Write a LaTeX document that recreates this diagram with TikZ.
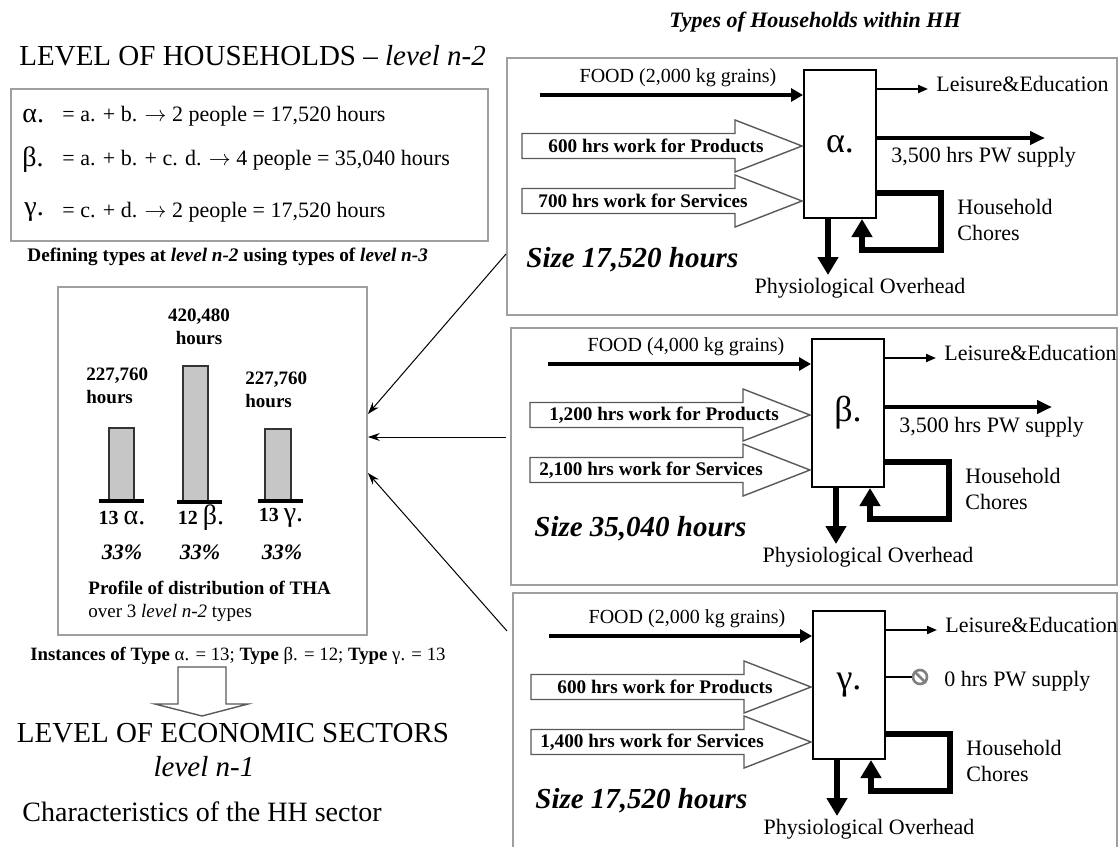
\documentclass[tikz,border=0pt]{standalone}
\usepackage{fontspec}
\setmainfont{Liberation Serif}
\usetikzlibrary{arrows.meta}

\tikzset{
  panelframe/.style={draw=gray!75, line width=0.9pt},
  hhbox/.style={draw, line width=1pt, minimum width=36pt, minimum height=74pt, inner sep=0pt, font=\fontsize{18}{20}\selectfont},
  foodarr/.style={line width=2pt, -{Triangle[length=6pt,width=6.5pt]}},
  pwarr/.style={line width=2pt, -{Triangle[length=7.5pt,width=6.5pt]}},
  leisarr/.style={line width=1pt, -{Triangle[length=5pt,width=4pt]}},
  thickarr/.style={line width=2.8pt, -{Triangle[length=9pt,width=10pt]}},
  hollow/.style={draw=gray!70!black, line width=0.7pt, fill=white},
  link/.style={line width=0.5pt, -{Stealth[length=6pt,width=4pt]}},
  bar/.style={draw=black!80, line width=0.7pt, fill=gray!45},
  barbase/.style={line width=2pt},
  nopw/.style={circle, draw=gray, line width=1.3pt, minimum size=7pt, inner sep=0pt},
  ttl/.style={inner sep=0pt, font=\fontsize{14.5}{17}\selectfont},
  chr/.style={inner sep=0pt, font=\fontsize{14}{17}\selectfont},
  defs/.style={inner sep=0pt, font=\fontsize{11}{13}\selectfont},
  grk/.style={inner sep=0pt, font=\fontsize{14}{16}\selectfont},
  capt/.style={inner sep=0pt, font=\fontsize{9.6}{11}\selectfont\bfseries},
  small/.style={inner sep=0pt, font=\fontsize{9}{11.5}\selectfont},
  barlbl/.style={inner sep=0pt, font=\fontsize{9.5}{11.5}\selectfont\bfseries},
  cnt/.style={inner sep=0pt, font=\fontsize{10}{12}\selectfont\bfseries},
  pct/.style={inner sep=0pt, font=\fontsize{11}{13}\selectfont\bfseries\itshape},
  foodlbl/.style={inner sep=0pt, font=\fontsize{10}{12}\selectfont},
  worklbl/.style={inner sep=0pt, font=\fontsize{9.6}{11}\selectfont\bfseries},
  leislbl/.style={inner sep=0pt, font=\fontsize{11}{13}\selectfont},
  lbl/.style={inner sep=0pt, font=\fontsize{11}{13}\selectfont},
  sizelbl/.style={inner sep=0pt, font=\fontsize{14.5}{17}\selectfont\bfseries\itshape},
  hdr/.style={inner sep=0pt, font=\fontsize{11}{13}\selectfont\bfseries\itshape}
}

\newcommand\hhpanel[8]{%
  \begin{scope}[shift={(#2,#3)}]
    \node[hhbox] (#1) at (36,74) {#4};
    \node[foodlbl] (#1food) at (-126,8) {FOOD (#5 kg grains)};
    \coordinate (#1in) at (-264,25);
    \draw[foodarr] (#1in) -- (#1in -| #1.west);
    \draw[hollow] (-282,63.5) -- (-69,63.5) -- (-69,50) -- (-2,76) -- (-69,102) -- (-69,88.5) -- (-282,88.5) -- cycle;
    \node[worklbl] (#1prod) at (-148,76) {#6 hrs work for Products};
    \draw[hollow] (-282,118.5) -- (-69,118.5) -- (-69,105) -- (-2,131) -- (-69,157) -- (-69,143.5) -- (-282,143.5) -- cycle;
    \node[worklbl] (#1serv) at (-161,131) {#7 hrs work for Services};
    \coordinate (#1leis) at (124,19);
    \draw[leisarr] (#1leis -| #1.east) -- (#1leis);
    \node[leislbl, anchor=west] (#1leist) at (132,14) {Leisure\&Education};
    \coordinate (#1loop) at (137,180);
    \draw[thickarr] ([yshift=-62pt]#1.north east) -| (#1loop) -| ([xshift=29.5pt]#1.south west);
    \node[lbl, anchor=west, align=left] (#1chores) at (153,150) {Household\\Chores};
    \coordinate (#1ovh) at (24,205);
    \draw[thickarr] (#1ovh |- #1.south) -- (#1ovh);
    \node[lbl] (#1ovht) at (56,218) {Physiological Overhead};
    \node[sizelbl, anchor=west] (#1size) at (-278,190) {Size #8 hours};
  \end{scope}}

\begin{document}
\begin{tikzpicture}[x=0.5pt, y=-0.5pt]
  \useasboundingbox (0,0) rectangle (1119,846);
  \clip (0,0) rectangle (1119,846);
  \fill[white] (0,0) rectangle (1119,846);

  \node[ttl, anchor=west] (lvlhh) at (19,56) {LEVEL OF HOUSEHOLDS – \textit{level n-2}};
  \draw[panelframe] (11,89) rectangle (488,241);
  \node[grk, anchor=west] (ga) at (22,116) {α.};
  \node[defs, anchor=west] (da) at (62,116) {= a. + b. $\rightarrow$ 2 people = 17,520 hours};
  \node[grk, anchor=west] (gb) at (22,160) {β.};
  \node[defs, anchor=west] (db) at (62,160) {= a. + b. + c. d. $\rightarrow$ 4 people = 35,040 hours};
  \node[grk, anchor=west] (gg) at (24,212) {γ.};
  \node[defs, anchor=west] (dg) at (62,212) {= c. + d. $\rightarrow$ 2 people = 17,520 hours};
  \node[capt, anchor=west] (defcap) at (27,257) {Defining types at \textit{level n-2} using types of \textit{level n-3}};

  \node[panelframe, minimum width=154.5pt, minimum height=174pt, inner sep=0pt] (profile) at (212.5,461) {};
  \draw[bar] (109,428) rectangle (134,500);
  \draw[bar] (183,366) rectangle (208,501);
  \draw[bar] (265,429) rectangle (291,500);
  \draw[barbase] (99,501) -- (144,501);
  \draw[barbase] (177,502) -- (222,502);
  \draw[barbase] (258,501) -- (303,501);
  \node[barlbl, anchor=west, align=left] (hrsA) at (86,385.5) {227,760\\hours};
  \node[barlbl, align=center] (hrsB) at (199,326.5) {420,480\\hours};
  \node[barlbl, anchor=west, align=left] (hrsC) at (245,389.5) {227,760\\hours};
  \node[cnt] (cntA) at (122,518) {13 {\fontsize{14}{16}\selectfont\mdseries α.}};
  \node[cnt] (cntB) at (201,518) {12 {\fontsize{14}{16}\selectfont\mdseries β.}};
  \node[cnt] (cntC) at (281,518) {13 {\fontsize{14}{16}\selectfont\mdseries γ.}};
  \node[pct] (pctA) at (122,552) {33\%};
  \node[pct] (pctB) at (200,552) {33\%};
  \node[pct] (pctC) at (282,552) {33\%};
  \node[small, anchor=west, align=left, font=\fontsize{9.5}{11.5}\selectfont] (profcap) at (88,601) {\textbf{Profile of distribution of THA}\\over 3 \textit{level n-2} types};

  \node[small, font=\fontsize{9.4}{11}\selectfont] (inst) at (238,656) {\textbf{Instances of Type} α. = 13; \textbf{Type} β. = 12; \textbf{Type} γ. = 13};
  \draw[hollow] (178,667) -- (226,667) -- (226,704) -- (248,704) -- (202,716) -- (155,704) -- (178,704) -- cycle;
  \node[ttl] (lvlec) at (233,733) {LEVEL OF ECONOMIC SECTORS};
  \node[ttl] (lvln) at (204,767) {\textit{level n-1}};
  \node[chr, anchor=west] (hhsec) at (22,812) {Characteristics of the HH sector};

  \node[hdr] (types) at (815,22) {Types of Households within HH};
  \draw[panelframe] (507,58) rectangle (1117,315);
  \draw[panelframe] (511,328) rectangle (1117,585);
  \draw[panelframe] (513,593) rectangle (1117,870);

  \hhpanel{hhA}{804}{70}{α.}{2,000}{600}{700}{17,520}
  \hhpanel{hhB}{812}{339}{β.}{4,000}{1,200}{2,100}{35,040}
  \hhpanel{hhC}{813}{611}{γ.}{2,000}{600}{1,400}{17,520}

  \coordinate (pwA) at (1045,138);
  \draw[pwarr] (pwA -| hhA.east) -- (pwA);
  \node[lbl, anchor=west] (pwAt) at (891,157) {3,500 hrs PW supply};
  \coordinate (pwB) at (1052,407);
  \draw[pwarr] (pwB -| hhB.east) -- (pwB);
  \node[lbl, anchor=west] (pwBt) at (899,427) {3,500 hrs PW supply};
  \node[nopw] (pwC) at (920,677) {};
  \draw[gray, line width=1.3pt] (pwC.north west) -- (pwC.south east);
  \draw[line width=1pt] (pwC -| hhC.east) -- (pwC.west);
  \node[lbl, anchor=west] (pwCt) at (944,681) {0 hrs PW supply};

  \coordinate (fromA) at (506,254);
  \coordinate (fromB) at (506,437);
  \coordinate (fromC) at (507,631);
  \draw[link] (fromA) -- ([yshift=23.5pt]profile.east);
  \draw[link] (fromB) -- ([yshift=12pt]profile.east);
  \draw[link] (fromC) -- ([yshift=-6pt]profile.east);
\end{tikzpicture}
\end{document}
